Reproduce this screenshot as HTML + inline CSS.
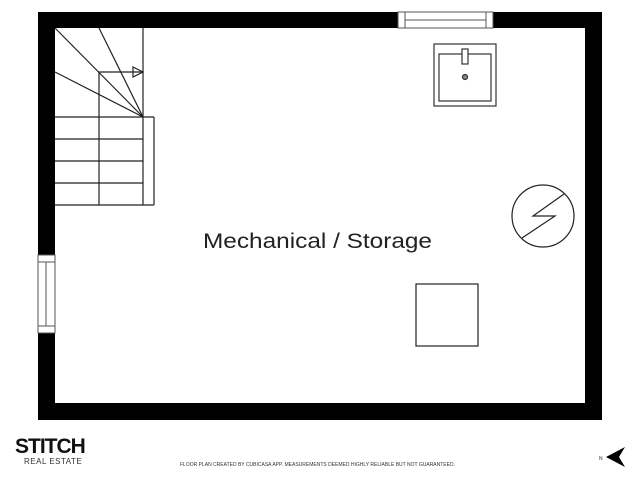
<!DOCTYPE html>
<html><head><style>body{margin:0;background:#fff;width:640px;height:480px;overflow:hidden}</style></head>
<body>
<svg width="640" height="480" xmlns="http://www.w3.org/2000/svg" font-family="Liberation Sans, sans-serif">
<path d="M38 12H602V420H38Z M55 28V403H585V28Z" fill="#000" fill-rule="evenodd"/>
<rect x="398" y="12" width="95" height="16" fill="#fff" stroke="#555" stroke-width="1"/>
<line x1="405" y1="12" x2="405" y2="28" stroke="#555"/>
<line x1="486" y1="12" x2="486" y2="28" stroke="#555"/>
<line x1="405" y1="20" x2="486" y2="20" stroke="#555"/>
<rect x="38" y="255" width="17" height="78" fill="#fff" stroke="#555"/>
<line x1="38" y1="262" x2="55" y2="262" stroke="#555"/>
<line x1="38" y1="326" x2="55" y2="326" stroke="#555"/>
<line x1="46" y1="262" x2="46" y2="326" stroke="#555"/>
<g stroke="#222" stroke-width="1.2" fill="none">
<line x1="143" y1="28" x2="143" y2="205"/>
<line x1="55" y1="28" x2="143" y2="117"/>
<line x1="99" y1="28" x2="143" y2="117"/>
<line x1="55" y1="72" x2="143" y2="117"/>
<polyline points="99,117 99,72 143,72"/>
<polygon points="133,67 143,72 133,77"/>
<line x1="55" y1="117" x2="154" y2="117"/>
<line x1="55" y1="139" x2="143" y2="139"/>
<line x1="55" y1="161" x2="143" y2="161"/>
<line x1="55" y1="183" x2="143" y2="183"/>
<line x1="55" y1="205" x2="154" y2="205"/>
<line x1="99" y1="117" x2="99" y2="205"/>
<line x1="154" y1="117" x2="154" y2="205"/>
</g>
<g stroke="#333" stroke-width="1.2" fill="none">
<rect x="434" y="44" width="62" height="62"/>
<rect x="439" y="54" width="52" height="47"/>
<rect x="462" y="49" width="6" height="15" fill="#fff"/>
<circle cx="465" cy="77" r="2.5" fill="#888"/>
</g>
<g stroke="#222" stroke-width="1.2" fill="none">
<circle cx="543" cy="216" r="31"/>
<polyline points="564,194 533,216 555,216 522,238"/>
<rect x="416" y="284" width="62" height="62"/>
</g>
<text x="203" y="248" font-size="21" textLength="229" lengthAdjust="spacingAndGlyphs" fill="#222">Mechanical / Storage</text>
<text x="15" y="453" font-size="21" font-weight="bold" fill="#111" letter-spacing="-1">STITCH</text>
<text x="24" y="464" font-size="8" fill="#333" letter-spacing="0.5">REAL ESTATE</text>
<text x="180" y="466" font-size="5" fill="#333">FLOOR PLAN CREATED BY CUBICASA APP. MEASUREMENTS DEEMED HIGHLY RELIABLE BUT NOT GUARANTEED.</text>
<text x="599" y="460" font-size="5" fill="#333">N</text>
<path d="M606 457L625 447L619 457L625 467Z" fill="#000"/>
</svg>
</body></html>
